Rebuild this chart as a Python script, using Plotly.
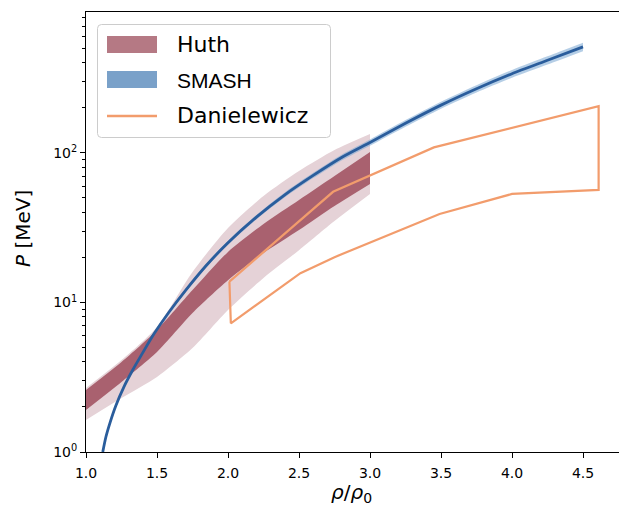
import plotly.graph_objects as go

# ---------------- data ----------------
huth_x = [1.0, 1.25, 1.5, 1.75, 2.0, 2.25, 2.5, 2.75, 3.0]
huth_dark_lo = [1.91, 2.94, 4.67, 8.51, 14.1, 21.4, 30.5, 44.2, 62.1]
huth_dark_hi = [2.60, 4.00, 6.55, 12.1, 21.8, 33.5, 48.5, 70.2, 101.6]
huth_light_lo = [1.64, 2.30, 3.18, 4.96, 8.91, 14.6, 22.4, 35.1, 53.2]
huth_light_hi = [2.68, 4.12, 6.86, 16.0, 31.5, 51.6, 75.8, 104.7, 134]

smash_x = [1.118, 1.14, 1.17, 1.21, 1.268, 1.33, 1.40, 1.479, 1.58, 1.70, 1.85, 2.0,
           2.2, 2.4, 2.6, 2.8, 3.0, 3.25, 3.5, 3.75, 4.0, 4.25, 4.5]
smash_p = [1.0, 1.26, 1.58, 2.04, 2.74, 3.55, 4.62, 6.17, 8.51, 12.0, 17.8, 25.1,
           37.2, 52.5, 70.8, 93.3, 117.5, 158, 209, 269, 339, 417, 513]
smash_lo = [0.99, 1.25, 1.56, 2.01, 2.70, 3.49, 4.53, 6.04, 8.31, 11.7, 17.3, 24.3,
            35.9, 50.5, 67.9, 89.2, 112, 150, 198, 254, 319, 391, 480]
smash_hi = [1.01, 1.27, 1.60, 2.07, 2.78, 3.61, 4.71, 6.30, 8.71, 12.3, 18.3, 25.9,
            38.5, 54.5, 73.7, 97.4, 123, 166, 220, 284, 359, 443, 546]

dan_x = [2.01, 2.74, 3.45, 4.61, 4.61, 4.0, 3.49, 2.75, 2.51, 2.02, 2.01]
dan_p = [13.8, 55, 109, 206, 56.6, 53.2, 39.1, 20.1, 15.7, 7.26, 13.8]

x_ticks = [1.0, 1.5, 2.0, 2.5, 3.0, 3.5, 4.0, 4.5]
y_ticks = [1, 10, 100]
y_ticktext = ["10<sup>0</sup>", "10<sup>1</sup>", "10<sup>2</sup>"]
y_minor = [2, 3, 4, 5, 6, 7, 8, 9, 20, 30, 40, 50, 60, 70, 80, 90, 200, 300, 400, 500, 600, 700, 800]

legend_labels = ["Huth", "SMASH", "Danielewicz"]

# ---------------- colours ----------------
c_huth_light = "#e5d2d7"
c_huth_dark = "#a9616f"
c_huth_leg = "#b57984"
c_smash = "#2a5d9c"
c_smash_band = "rgba(120,165,210,0.55)"
c_smash_leg = "#7aa1c9"
c_dan = "#f29c6c"

W, H = 619, 507
L, R, T, B = 86, 0, 12, 55
PW = W - L - R
PH = H - T - B


def px(xp):
    return (xp - L) / PW


def py(yp):
    return (H - B - yp) / PH


fig = go.Figure()


def band(x, lo, hi, color):
    fig.add_trace(go.Scatter(
        x=x, y=lo, mode="lines",
        line=dict(width=0, color=color, shape="spline", smoothing=0.7),
        hoverinfo="skip", showlegend=False))
    fig.add_trace(go.Scatter(
        x=x, y=hi, mode="lines", fill="tonexty", fillcolor=color,
        line=dict(width=0, color=color, shape="spline", smoothing=0.7),
        hoverinfo="skip", showlegend=False))


band(huth_x, huth_light_lo, huth_light_hi, c_huth_light)
band(huth_x, huth_dark_lo, huth_dark_hi, c_huth_dark)
band(smash_x, smash_lo, smash_hi, c_smash_band)

fig.add_trace(go.Scatter(x=smash_x, y=smash_p, mode="lines",
                         line=dict(color=c_smash, width=2.8, shape="spline", smoothing=0.6),
                         showlegend=False, name="SMASH"))

fig.add_trace(go.Scatter(x=dan_x, y=dan_p, mode="lines",
                         line=dict(color=c_dan, width=2.2),
                         showlegend=False, name="Danielewicz"))

# ---------------- manual legend ----------------
shapes = []
annotations = []
bx0, bx1, by0, by1, r = 97.5, 330.5, 24.5, 137.5, 4
path = (f"M {px(bx0 + r)},{py(by0)} L {px(bx1 - r)},{py(by0)} Q {px(bx1)},{py(by0)} {px(bx1)},{py(by0 + r)} "
        f"L {px(bx1)},{py(by1 - r)} Q {px(bx1)},{py(by1)} {px(bx1 - r)},{py(by1)} "
        f"L {px(bx0 + r)},{py(by1)} Q {px(bx0)},{py(by1)} {px(bx0)},{py(by1 - r)} "
        f"L {px(bx0)},{py(by0 + r)} Q {px(bx0)},{py(by0)} {px(bx0 + r)},{py(by0)} Z")
shapes.append(dict(type="path", xref="paper", yref="paper", path=path,
                   line=dict(color="#cccccc", width=1), fillcolor="rgba(255,255,255,0.85)"))
shapes.append(dict(type="rect", xref="paper", yref="paper",
                   x0=px(107), x1=px(157), y0=py(36), y1=py(53),
                   line=dict(width=0), fillcolor=c_huth_leg))
shapes.append(dict(type="rect", xref="paper", yref="paper",
                   x0=px(107), x1=px(157), y0=py(71), y1=py(88),
                   line=dict(width=0), fillcolor=c_smash_leg))
shapes.append(dict(type="line", xref="paper", yref="paper",
                   x0=px(107), x1=px(157), y0=py(116), y1=py(116),
                   line=dict(color=c_dan, width=2.5)))

leg_y = [44.5, 80, 116]
leg_fonts = [dict(family="DejaVu Sans", size=22, color="black"),
             dict(family="Liberation Sans", size=21, color="black"),
             dict(family="DejaVu Sans", size=22, color="black")]
for lab, yy, f in zip(legend_labels, leg_y, leg_fonts):
    annotations.append(dict(text=lab, x=px(175), y=py(yy), xref="paper", yref="paper",
                            xanchor="left", yanchor="middle", showarrow=False, font=f))

# axis titles
annotations.append(dict(text="<i>P</i> [MeV]", x=px(23), y=py(229), xref="paper", yref="paper",
                        textangle=-90, showarrow=False, xanchor="center", yanchor="middle",
                        font=dict(family="DejaVu Sans", size=20, color="black")))
annotations.append(dict(text="<i>ρ</i>/<i>ρ</i><sub>0</sub>", x=px(351), y=py(493), xref="paper", yref="paper",
                        showarrow=False, xanchor="center", yanchor="middle",
                        font=dict(family="DejaVu Sans", size=20, color="black")))

x_max = 1 + PW / 142.0

fig.update_layout(
    width=W, height=H,
    margin=dict(l=L, r=R, t=T, b=B, pad=0),
    paper_bgcolor="white", plot_bgcolor="white",
    showlegend=False,
    shapes=shapes, annotations=annotations,
    xaxis=dict(range=[1, x_max], tickvals=x_ticks, ticktext=[f"{v:.1f}" for v in x_ticks],
               ticks="outside", ticklen=5, tickwidth=1, tickcolor="black", ticklabelstandoff=3,
               showline=True, linecolor="black", linewidth=1, mirror=True,
               showgrid=False, zeroline=False,
               tickfont=dict(family="DejaVu Sans", size=14, color="black")),
    yaxis=dict(type="log", range=[0, 2.943], tickvals=y_ticks, ticktext=y_ticktext,
               ticks="outside", ticklen=5, tickwidth=1, tickcolor="black",
               minor=dict(tickvals=y_minor, ticks="outside", ticklen=3, tickwidth=0.8, tickcolor="black", showgrid=False),
               showline=True, linecolor="black", linewidth=1, mirror=False,
               showgrid=False, zeroline=False,
               tickfont=dict(family="DejaVu Sans", size=14, color="black")),
)

fig.write_html("out.html")
